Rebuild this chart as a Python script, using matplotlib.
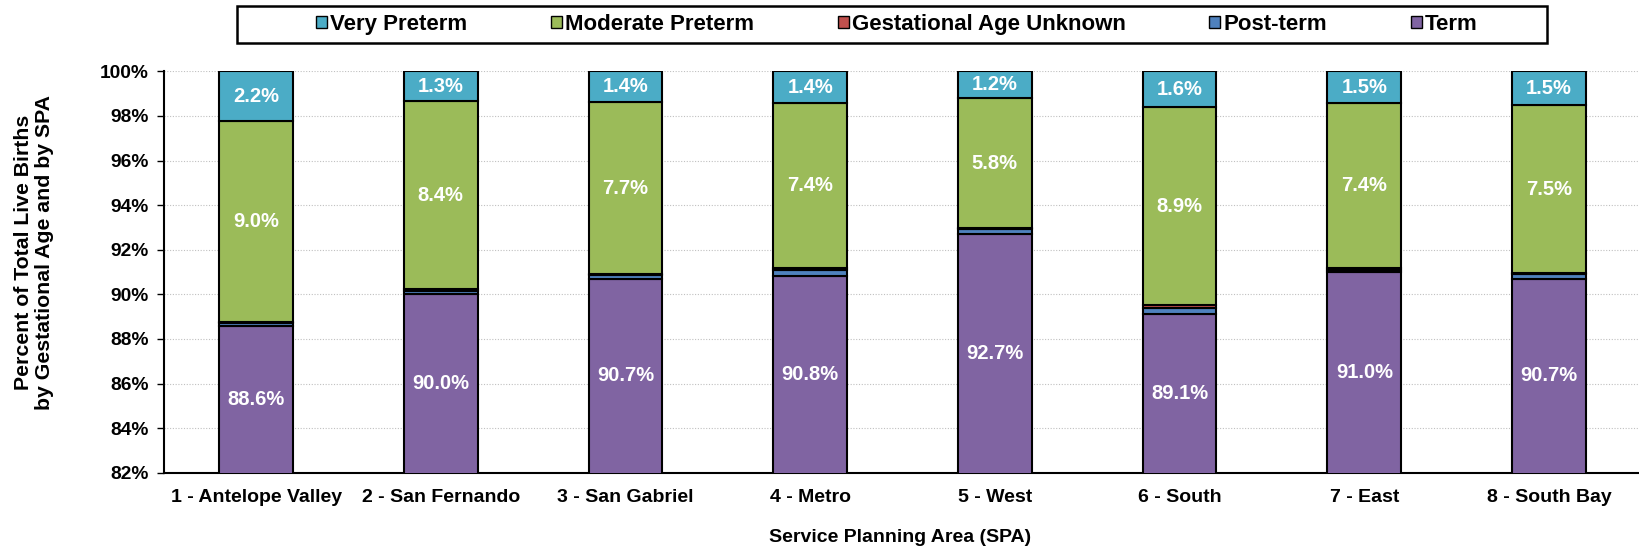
import matplotlib
matplotlib.use("Agg")
import matplotlib.pyplot as plt
import numpy as np
from matplotlib.ticker import FuncFormatter
from matplotlib.patches import Rectangle

categories = ["1 - Antelope Valley", "2 - San Fernando", "3 - San Gabriel", "4 - Metro",
              "5 - West", "6 - South", "7 - East", "8 - South Bay"]
term = [88.6, 90.0, 90.7, 90.8, 92.7, 89.1, 91.0, 90.7]
post_term = [0.12, 0.17, 0.15, 0.30, 0.22, 0.30, 0.10, 0.20]
unknown = [0.05, 0.08, 0.06, 0.07, 0.07, 0.10, 0.06, 0.07]
moderate = [9.0, 8.4, 7.7, 7.4, 5.8, 8.9, 7.4, 7.5]
very = [2.2, 1.3, 1.4, 1.4, 1.2, 1.6, 1.5, 1.5]

series = [("Term", term, "#8064A2"),
          ("Post-term", post_term, "#4F81BD"),
          ("Gestational Age Unknown", unknown, "#C0504D"),
          ("Moderate Preterm", moderate, "#9BBB59"),
          ("Very Preterm", very, "#4BACC6")]
labelled = {"Term": term, "Moderate Preterm": moderate, "Very Preterm": very}

plt.rcParams['font.family'] = ['Liberation Sans', 'DejaVu Sans']
W, H = 1639, 549
fig = plt.figure(figsize=(W / 100, H / 100), dpi=100)
ax = fig.add_axes([0.0999, 0.139, 0.9015, 0.731])

x = np.arange(len(categories))
ymin = 82
bottom = np.zeros(len(categories))
handles = {}
for name, vals, col in series:
    vals = np.array(vals, dtype=float)
    if name == "Very Preterm":
        vals = 100 - bottom  # stack fills to 100%
    b = ax.bar(x, vals, 0.40, bottom=bottom, color=col, edgecolor="black", linewidth=1.5, zorder=3)
    handles[name] = b
    if name in labelled:
        for i in range(len(x)):
            lo = max(bottom[i], ymin)
            hi = bottom[i] + vals[i]
            ax.text(x[i], (lo + hi) / 2, f"{labelled[name][i]:.1f}%", ha="center", va="center",
                    color="white", fontsize=14.5, fontweight="bold", zorder=4)
    bottom = bottom + vals

ax.set_ylim(82, 100)
ax.set_xlim(-0.5, 7.5)
ax.set_yticks(np.arange(82, 100.1, 2))
ax.yaxis.set_major_formatter(FuncFormatter(lambda v, p: f"{v:.0f}%"))
ax.set_xticks(x)
ax.set_xticklabels(categories)
for lab in ax.get_xticklabels():
    lab.set_fontweight("bold")
    lab.set_fontsize(14)
for lab in ax.get_yticklabels():
    lab.set_fontweight("bold")
    lab.set_fontsize(13.8)
ax.grid(axis="y", color="#c0c0c0", linestyle=(0, (1, 1.5)), linewidth=0.8, zorder=0)
ax.spines["top"].set_visible(False)
ax.spines["right"].set_visible(False)
ax.spines["left"].set_linewidth(1.5)
ax.spines["bottom"].set_linewidth(1.5)
ax.tick_params(axis="y", length=5, width=1, pad=6)
ax.tick_params(axis="x", length=0, pad=12)

fig.text(900.5 / W, 1 - 537 / H, "Service Planning Area (SPA)", fontsize=14,
         fontweight="bold", ha="center", va="center")
fig.text(34 / W, 1 - 252 / H, "Percent of Total Live Births\nby Gestational Age and by SPA",
         fontsize=15.3, fontweight="bold", ha="center", va="center", rotation=90,
         multialignment="center", linespacing=1.15)

order = ["Very Preterm", "Moderate Preterm", "Gestational Age Unknown", "Post-term", "Term"]
leg = fig.legend([handles[n] for n in order], order, ncol=5, loc="center",
                 bbox_to_anchor=(897 / W, 1 - 24.5 / H), frameon=False,
                 prop={"weight": "bold", "size": 16},
                 handlelength=0.5, handleheight=0.5, handletextpad=0.15,
                 columnspacing=3.75, borderpad=0.0)
for h in leg.legend_handles:
    h.set_linewidth(1.0)
fig.patches.append(Rectangle((237 / W, 1 - 43 / H), (1547 - 237) / W, 37 / H,
                             transform=fig.transFigure, fill=False, edgecolor="black",
                             linewidth=1.8, figure=fig))

fig.savefig("out.png", dpi=100)
